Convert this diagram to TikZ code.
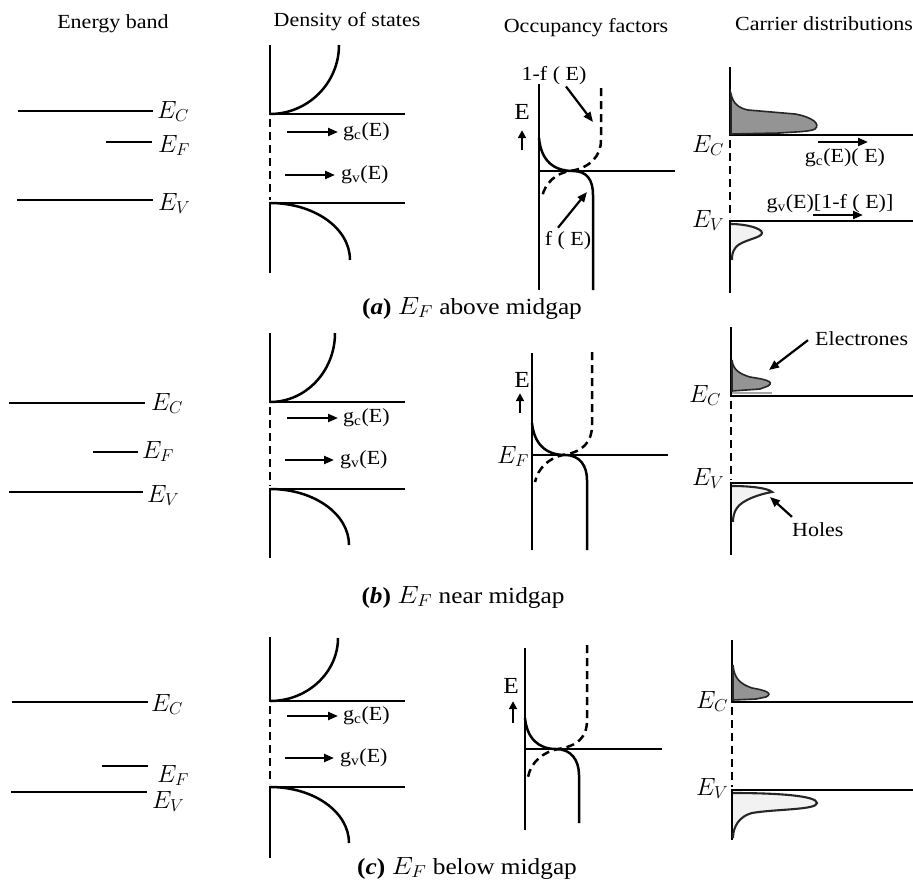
\documentclass[tikz,border=0pt]{standalone}
\usepackage{fontspec}
\setmainfont{Liberation Serif}
\usepackage{graphicx}
\usetikzlibrary{arrows.meta}
\newcommand{\sx}[1]{\scalebox{1.1}[1]{#1}}
\begin{document}
\begin{tikzpicture}[x=1pt,y=-1pt,
  ln/.style={line width=2.5pt},
  dsh/.style={line width=2.5pt, dash pattern=on 8pt off 5pt},
  arr/.style={line width=2.2pt,-{Triangle[length=10pt,width=8pt]}},
  arrE/.style={line width=2.8pt,-{Triangle[length=8pt,width=8pt]}},
  lbl/.style={inner sep=0pt, font=\fontsize{20}{24}\selectfont},
  elbl/.style={inner sep=0pt, font=\fontsize{23}{27}\selectfont},
  mlbl/.style={inner sep=0pt, font=\fontsize{23}{27}\selectfont},
  captxt/.style={inner sep=0pt, font=\fontsize{23}{27}\selectfont},
  efill/.style={fill=black!42, draw=black!85, line width=1.6pt},
  hole/.style={fill=black!5, draw=black!85, line width=2.1pt}]
\useasboundingbox (0,0) rectangle (913,881);
\fill[white] (0,0) rectangle (913,881);

% ---------- titles
\node[lbl, anchor=base] (t1) at (113,28) {\sx{Energy band}};
\node[lbl, anchor=base] (t2) at (347,26) {\sx{Density of states}};
\node[lbl, anchor=base] (t3) at (586,32) {\sx{Occupancy factors}};
\node[lbl, anchor=base west] (t4) at (735,30) {\sx{Carrier distributions}};

% ================= ROW (a)
\draw[ln] (18,111) -- (153,111);
\draw[ln] (106,142) -- (152,142);
\draw[ln] (17,200) -- (153,200);
\node[mlbl, anchor=base west] (aEC) at (157,118) {$E_C$};
\node[mlbl, anchor=base west] (aEF) at (158,152) {$E_F$};
\node[mlbl, anchor=base west] (aEV) at (158,210) {$E_V$};

\draw[ln] (270,45) -- (270,114) -- (405,114);
\draw[ln] (270,114) .. controls (308,114) and (339,83) .. (339,45);
\draw[dsh] (270,119) -- (270,200);
\draw[ln] (270,273) -- (270,203) -- (405,203);
\draw[ln] (270,203) .. controls (314,203) and (350,228) .. (350,260);
\node[lbl, anchor=west] (agc) at (343,132) {\sx{g\textsubscript{c}(E)}};
\node[lbl, anchor=west] (agv) at (341,175) {\sx{g\textsubscript{v}(E)}};
\coordinate (agc0) at (287,132);
\coordinate (agv0) at (285,175);
\draw[arr] (agc0) -- ([xshift=-5pt]agc.west);
\draw[arr] (agv0) -- ([xshift=-6pt]agv.west);

\draw[ln] (539,84) -- (539,290);
\draw[ln] (539,171) -- (675,171);
\draw[ln] (539,138) .. controls (541,160) and (553,171) .. (573,171) .. controls (587,171) and (593,180) .. (593,195) -- (593,290);
\draw[dsh] (601,88) -- (601,140) .. controls (601,156) and (590,168) .. (570,171) .. controls (556,173) and (545,183) .. (542,197);
\node[elbl, anchor=base] (aE) at (522,119) {\sx{E}};
\coordinate (aEa0) at (522,150);
\draw[arrE] (aEa0) -- ([yshift=-11pt]aE.south);
\node[lbl, anchor=base] (a1f) at (554,80) {\sx{1-f ( E)}};
\coordinate (a1fp) at (593,122);
\draw[arr] ([xshift=12pt,yshift=-2pt]a1f.south) -- (a1fp);
\node[lbl, anchor=base] (aff) at (568,245) {\sx{f ( E)}};
\coordinate (affp) at (587,192);
\draw[arr] ([xshift=-10pt,yshift=3pt]aff.north) -- (affp);

\draw[ln] (730,67) -- (730,135) -- (913,135);
\draw[dsh] (730,140) -- (730,218);
\draw[ln] (730,293) -- (730,221) -- (913,221);
\filldraw[efill] (731,94) .. controls (733,103) and (738,108) .. (748,110) -- (795,114) .. controls (812,117) and (821,124) .. (815,129) .. controls (810,132) and (790,132) .. (780,133) -- (731,134) -- cycle;
\draw[hole] (731,224) .. controls (745,224) and (762,228) .. (762,233) .. controls (762,238) and (742,240) .. (736,247) .. controls (732,252) and (732,256) .. (732,260);
\node[mlbl, anchor=base west] (cEC) at (692,152) {$E_C$};
\node[mlbl, anchor=base west] (cEV) at (692,227) {$E_V$};
\node[lbl, anchor=base] (cgc) at (845,162) {\sx{g\textsubscript{c}(E)( E)}};
\node[lbl, anchor=base] (cgv) at (830,208) {\sx{g\textsubscript{v}(E)[1-f ( E)]}};
\coordinate (cgc0) at (818,142);
\coordinate (cgc1) at (868,142);
\coordinate (cgv0) at (813,215);
\coordinate (cgv1) at (863,215);
\draw[arr] (cgc0) -- (cgc1);
\draw[arr] (cgv0) -- (cgv1);

\node[captxt, anchor=base] (capa) at (472,314) {\sx{\textbf{(\textit{a})} $E_F$ above midgap}};

% ================= ROW (b)
\draw[ln] (9,403) -- (145,403);
\draw[ln] (93,452) -- (138,452);
\draw[ln] (9,492) -- (143,492);
\node[mlbl, anchor=base west] (bEC) at (151,410) {$E_C$};
\node[mlbl, anchor=base west] (bEF) at (142,458) {$E_F$};
\node[mlbl, anchor=base west] (bEV) at (147,502) {$E_V$};

\draw[ln] (270,333) -- (270,402) -- (405,402);
\draw[ln] (270,402) .. controls (306,402) and (335,371) .. (335,333);
\draw[dsh] (270,407) -- (270,486);
\draw[ln] (270,558) -- (270,489) -- (405,489);
\draw[ln] (270,489) .. controls (314,489) and (349,514) .. (349,545);
\node[lbl, anchor=west] (bgc) at (343,418) {\sx{g\textsubscript{c}(E)}};
\node[lbl, anchor=west] (bgv) at (340,460) {\sx{g\textsubscript{v}(E)}};
\coordinate (bgc0) at (287,418);
\coordinate (bgv0) at (285,460);
\draw[arr] (bgc0) -- ([xshift=-5pt]bgc.west);
\draw[arr] (bgv0) -- ([xshift=-6pt]bgv.west);

\draw[ln] (532,353) -- (532,550);
\draw[ln] (532,455) -- (668,455);
\draw[ln] (532,423) .. controls (534,443) and (545,455) .. (565,455) .. controls (580,455) and (587,466) .. (587,480) -- (587,550);
\draw[dsh] (592,352) -- (592,425) .. controls (592,443) and (582,452) .. (563,455) .. controls (549,458) and (538,468) .. (535,482);
\node[elbl, anchor=base] (bE) at (522,387) {\sx{E}};
\coordinate (bEa0) at (520,413);
\draw[arrE] (bEa0) -- ([xshift=-2pt,yshift=-6pt]bE.south);
\node[mlbl, anchor=base west] (bEF2) at (497,463) {$E_F$};

\draw[ln] (731,327) -- (731,396) -- (913,396);
\draw[dsh] (731,401) -- (731,480);
\draw[ln] (731,555) -- (731,483) -- (913,483);
\filldraw[efill] (732,360) .. controls (733,370) and (740,374) .. (750,377) .. controls (762,379) and (776,381) .. (768,386) -- (760,389) -- (732,391) -- cycle;
\draw[black!35, line width=1.3pt] (732,393) -- (772,393);
\draw[hole] (732,486) .. controls (750,486) and (768,488) .. (772,492) .. controls (760,494) and (742,500) .. (737,508) .. controls (734,512) and (733,517) .. (733,522);
\node[mlbl, anchor=base west] (dEC) at (689,402) {$E_C$};
\node[mlbl, anchor=base west] (dEV) at (692,485) {$E_V$};
\node[lbl, anchor=base west] (bel) at (815,345) {\sx{Electrones}};
\coordinate (belp) at (769,370);
\draw[arr] ([xshift=-7pt,yshift=-2pt]bel.west) -- (belp);
\node[lbl, anchor=base west] (bho) at (792,536) {\sx{Holes}};
\coordinate (bhop) at (770,497);
\draw[arr] ([yshift=5pt]bho.north west) -- (bhop);

\node[captxt, anchor=base] (capb) at (463,603) {\sx{\textbf{(\textit{b})} $E_F$ near midgap}};

% ================= ROW (c)
\draw[ln] (12,702) -- (148,702);
\draw[ln] (102,766) -- (148,766);
\draw[ln] (11,792) -- (147,792);
\node[mlbl, anchor=base west] (eEC) at (151,711) {$E_C$};
\node[mlbl, anchor=base west] (eEF) at (157,782) {$E_F$};
\node[mlbl, anchor=base west] (eEV) at (152,808) {$E_V$};

\draw[ln] (270,637) -- (270,701) -- (405,701);
\draw[ln] (270,701) .. controls (308,701) and (338,672) .. (338,638);
\draw[dsh] (270,706) -- (270,784);
\draw[ln] (270,858) -- (270,787) -- (405,787);
\draw[ln] (270,787) .. controls (314,787) and (349,812) .. (349,843);
\node[lbl, anchor=west] (egc) at (343,716) {\sx{g\textsubscript{c}(E)}};
\node[lbl, anchor=west] (egv) at (340,758) {\sx{g\textsubscript{v}(E)}};
\coordinate (egc0) at (287,716);
\coordinate (egv0) at (285,758);
\draw[arr] (egc0) -- ([xshift=-5pt]egc.west);
\draw[arr] (egv0) -- ([xshift=-6pt]egv.west);

\draw[ln] (525,648) -- (525,830);
\draw[ln] (525,749) -- (662,749);
\draw[ln] (525,718) .. controls (527,738) and (538,749) .. (556,749) .. controls (571,749) and (579,760) .. (579,775) -- (579,823);
\draw[dsh] (587,645) -- (587,720) .. controls (587,738) and (577,746) .. (558,749) .. controls (543,752) and (531,762) .. (528,777);
\node[elbl, anchor=base] (eE) at (511,693) {\sx{E}};
\coordinate (eEa0) at (513,723);
\draw[arrE] (eEa0) -- ([xshift=2pt,yshift=-8pt]eE.south);

\draw[ln] (732,640) -- (732,702) -- (913,702);
\draw[dsh] (732,707) -- (732,787);
\draw[ln] (732,840) -- (732,790) -- (913,790);
\filldraw[efill] (733,665) .. controls (734,678) and (740,684) .. (752,688) .. controls (764,690) and (774,693) .. (766,697) -- (756,699) -- (733,700) -- cycle;
\draw[hole] (733,793) .. controls (780,793) and (817,796) .. (817,803) .. controls (817,810) and (775,809) .. (752,813) .. controls (740,816) and (733,826) .. (733,838);
\node[mlbl, anchor=base west] (fEC) at (696,708) {$E_C$};
\node[mlbl, anchor=base west] (fEV) at (696,795) {$E_V$};

\node[captxt, anchor=base] (capc) at (467,874) {\sx{\textbf{(\textit{c})} $E_F$ below midgap}};
\end{tikzpicture}
\end{document}
